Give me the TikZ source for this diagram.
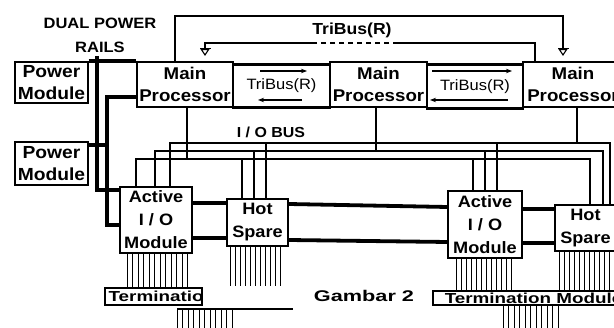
\documentclass[tikz,border=0pt]{standalone}
\usepackage{fontspec}
\setmainfont{Liberation Sans}[FakeStretch=1.1]
\newfontfamily\widefont{Liberation Sans}[FakeStretch=1.3]
\newfontfamily\gamfont{Liberation Sans}[FakeStretch=1.4]
\usetikzlibrary{arrows.meta}
\newcommand\setfs[2]{\fontsize{#1}{#2}\selectfont}
\begin{document}
\begin{tikzpicture}[x=1pt,y=-1pt,
  box/.style={draw, line width=1.2pt, inner sep=0pt, align=center},
  pmbox/.style={box, font=\bfseries\setfs{17.5}{22}, minimum width=73pt},
  mpbox/.style={box, font=\bfseries\setfs{17}{22}, minimum height=45pt},
  modbox/.style={box, font=\bfseries\setfs{16.5}{23}},
  tbbox/.style={draw, line width=1.4pt, inner sep=0pt, font=\setfs{15}{18}},
  termbox/.style={draw, line width=1.2pt, inner sep=0pt},
  termtext/.style={font=\widefont\bfseries\setfs{14.5}{18}, inner sep=0pt, anchor=west},
  lbl/.style={font=\bfseries\setfs{15}{24}, align=center, inner sep=0pt},
  rail/.style={line width=3.8pt},
  tbedge/.style={line width=3.4pt},
  wire/.style={line width=1.1pt},
  pin/.style={line width=0.9pt},
  flow/.style={line width=1.1pt, -{Stealth[length=6pt,width=4.5pt]}},
  gnd/.style={line width=1.1pt, -{Bar[width=11pt,line width=1.1pt]Triangle[open,length=7pt,width=9pt,line width=1.1pt]}}
]
\useasboundingbox (0,0) rectangle (614,328);
\clip (0,0) rectangle (614,328);

% labels
\node[lbl] (dpr) at (100,35) {DUAL POWER\\RAILS};
\node[lbl, font=\bfseries\setfs{16}{19}] (tbl) at (352,30) {TriBus(R)};
\node[lbl, font=\bfseries\setfs{14.5}{17}] (iob) at (271,132) {I / O BUS};
\node[font=\gamfont\bfseries\setfs{15.5}{18}, inner sep=0pt] (gam) at (364,296) {Gambar 2};

% power modules
\node[pmbox, minimum height=41pt] (pm1) at (51.5,82.5) {Power\\Module};
\node[pmbox, minimum height=43pt] (pm2) at (51.5,163.5) {Power\\Module};

% main processors
\node[mpbox, minimum width=96pt] (mp1) at (185,84.5) {Main\\Processor};
\node[mpbox, minimum width=97pt] (mp2) at (378.5,84.5) {Main\\Processor};
\node[mpbox, minimum width=100pt] (mp3) at (573,84.5) {Main\\Processor};

% tribus boxes
\node[tbbox, minimum width=97pt, minimum height=42pt] (tb1) at (281.5,86) {TriBus(R)};
\node[tbbox, minimum width=96pt, minimum height=43pt] (tb2) at (475,86.5) {TriBus(R)};
\draw[tbedge] (tb1.north west) -- (tb1.north east);
\draw[tbedge] (tb1.south west) -- (tb1.south east);
\draw[tbedge] (tb2.north west) -- (tb2.north east);
\draw[tbedge] (tb2.south west) -- (tb2.south east);
\draw[flow] (260,71) -- (307,71);
\draw[flow] (302,100) -- (258,100);
\draw[flow] (432,71) -- (512,71);
\draw[flow] (508,100) -- (430,100);

% top tribus lines
\coordinate (tA) at (563,56);
\coordinate (tB) at (205,56);
\draw[gnd] (175,0 |- mp1.north) -- (175,16) -- (563,16) -- (tA);
\draw[wire] (535,0 |- mp3.north) |- (398,43);
\draw[wire, dash pattern=on 5pt off 4pt] (398,43) -- (313,43);
\draw[gnd] (313,43) -- (205,43) -- (tB);

% I/O modules
\node[modbox, minimum width=72pt, minimum height=66pt] (act1) at (156,220) {Active\\I / O\\Module};
\node[modbox, minimum width=61pt, minimum height=47pt] (hot1) at (257.5,222.5) {Hot\\Spare};
\node[modbox, minimum width=74pt, minimum height=67pt] (act2) at (485,224.5) {Active\\I / O\\Module};
\node[modbox, minimum width=61pt, minimum height=46pt] (hot2) at (585.5,228) {Hot\\Spare};

% termination modules
\node[termbox, minimum width=97pt, minimum height=17pt,
  path picture={\node[termtext] at ([xshift=3pt]path picture bounding box.west) {Termination Module};}]
  (term1) at (153.5,296.5) {};
\node[termbox, minimum width=192pt, minimum height=14pt,
  path picture={\node[termtext] at ([xshift=4pt]path picture bounding box.west) {Termination Module};}]
  (term2) at (529,298) {};

% I/O bus
\draw[wire] (187,0 |- mp1.south) -- (187,159);
\draw[wire] (376,0 |- mp2.south) -- (376,151);
\draw[wire] (577,0 |- mp3.south) -- (577,143);
\draw[wire] (136,0 |- act1.north) |- (590,159) -- (590,0 |- hot2.north);
\draw[wire] (155,0 |- act1.north) |- (603,151) -- (603,0 |- hot2.north);
\draw[wire] (170,0 |- act1.north) |- (610,143) -- (610,0 |- hot2.north);
\draw[wire] (242,0 |- hot1.north) -- (242,159);
\draw[wire] (254,0 |- hot1.north) -- (254,151);
\draw[wire] (266,0 |- hot1.north) -- (266,143);
\draw[wire] (473,0 |- act2.north) -- (473,159);
\draw[wire] (485,0 |- act2.north) -- (485,151);
\draw[wire] (497,0 |- act2.north) -- (497,143);

% power rails
\draw[rail] (pm1.north east) -- (mp1.north west);
\draw[rail] (97,56) |- (act1.west |- 0,190);
\draw[rail] (mp1.west |- 0,97) -| (107,225) -- (act1.west |- 0,225);
\draw[rail] (pm2.east |- 0,145) -- (107,145);
\draw[rail] (act1.east |- 0,203) -- (hot1.west |- 0,203);
\draw[rail] (hot1.east |- 0,204) -- (act2.west |- 0,207);
\draw[rail] (act2.east |- 0,209) -- (hot2.west |- 0,209);
\draw[rail] (act1.east |- 0,238) -- (hot1.west |- 0,238);
\draw[rail] (hot1.east |- 0,240) -- (act2.west |- 0,242);
\draw[rail] (act2.east |- 0,243) -- (hot2.west |- 0,243);

% pins
\foreach \x in {127,132.5,...,188} \draw[pin] (\x,0 |- act1.south) -- (\x,0 |- term1.north);
\foreach \x in {230,235,...,284} \draw[pin] (\x,0 |- hot1.south) -- (\x,286);
\foreach \x in {456,461,...,511} \draw[pin] (\x,0 |- act2.south) -- (\x,0 |- term2.north);
\foreach \x in {559,564,...,614} \draw[pin] (\x,0 |- hot2.south) -- (\x,0 |- term2.north);
\coordinate (t1a) at (177,309);
\coordinate (t1b) at (293,309);
\draw[wire] (t1a) -- (t1b);
\foreach \x in {177,182.5,...,234} \draw[pin] (\x,309) -- (\x,330);
\foreach \x in {503,508.5,...,558} \draw[pin] (\x,0 |- term2.south) -- (\x,330);
\end{tikzpicture}
\end{document}
